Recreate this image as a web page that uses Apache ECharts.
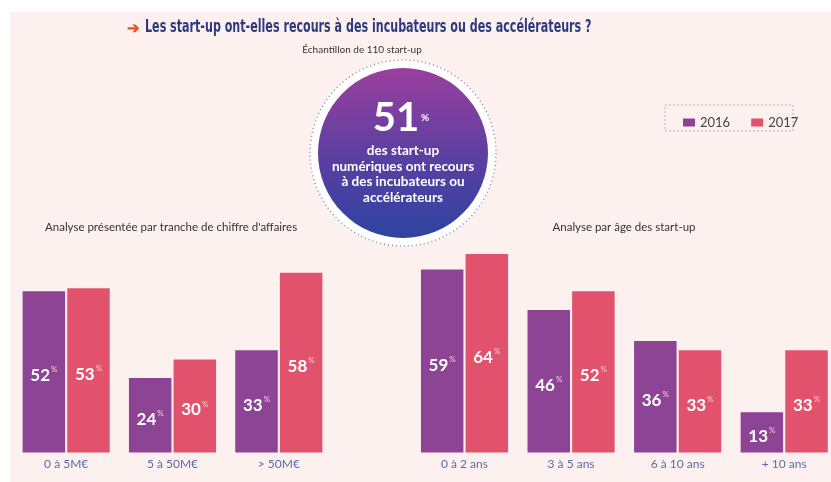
<!DOCTYPE html>
<html>
<head>
<meta charset="utf-8">
<script src="https://cdn.jsdelivr.net/npm/echarts@6/dist/echarts.min.js"></script>
<style>
  html, body { margin: 0; padding: 0; background: #ffffff; }
  #chart { width: 831px; height: 482px; }
</style>
</head>
<body>
<div id="chart"></div>
<script>
// Chiffre d'affaires
const revenueCategories = ['0 à 5M€', '5 à 50M€', '> 50M€'];
const revenue2016 = [52, 24, 33];
const revenue2017 = [53, 30, 58];

// Âge des start-up
const ageCategories = ['0 à 2 ans', '3 à 5 ans', '6 à 10 ans', '+ 10 ans'];
const age2016 = [59, 46, 36, 13];
const age2017 = [64, 52, 33, 33];

const seriesNames = ['2016', '2017'];
const headlineValue = 51;

const PURPLE = '#8e4495';
const PINK = '#e3526d';
const BG = '#fdf1f0';
const FONT = 'Lato, "Open Sans", sans-serif';

const chart = echarts.init(document.getElementById('chart'), null, { renderer: 'canvas' });

const barLabel = {
  show: true,
  position: 'inside',
  offset: [0, 4],
  formatter: p => '{n|' + p.value + '}{p|%}',
  rich: {
    n: { color: '#ffffff', fontSize: 17, fontWeight: 'bold', fontFamily: FONT, lineHeight: 20 },
    p: { color: '#f4c9d3', fontSize: 8, fontFamily: FONT, verticalAlign: 'top', lineHeight: 20, padding: [0, 0, 8, 1] }
  }
};

function barSeries(name, data, color, idx) {
  return {
    name: name,
    type: 'bar',
    xAxisIndex: idx,
    yAxisIndex: idx,
    data: data,
    barWidth: 42.5,
    barGap: '5%',
    itemStyle: { color: color },
    label: barLabel
  };
}

const xAxisCommon = {
  type: 'category',
  axisLine: { show: false },
  axisTick: { show: false },
  axisLabel: { color: '#5c6aa6', fontSize: 12, fontFamily: FONT, margin: 6 }
};
const yAxisCommon = { type: 'value', min: 0, max: 70, show: false, splitLine: { show: false } };

const R = 85;
const cx = 403, cy = 153;

chart.setOption({
  backgroundColor: '#ffffff',
  animation: false,
  legend: {
    data: seriesNames,
    left: 678,
    top: 111,
    icon: 'rect',
    itemWidth: 12,
    itemHeight: 8,
    itemGap: 21,
    textStyle: { color: '#444444', fontSize: 13, fontFamily: FONT }
  },
  grid: [
    { left: 13, top: 235.5, width: 319, height: 217 },
    // category centres sit on the grid edges (boundaryGap: false)
    { left: 464.5, top: 235.5, width: 319.7, height: 217 }
  ],
  xAxis: [
    Object.assign({}, xAxisCommon, { gridIndex: 0, data: revenueCategories }),
    Object.assign({}, xAxisCommon, { gridIndex: 1, data: ageCategories, boundaryGap: false })
  ],
  yAxis: [
    Object.assign({}, yAxisCommon, { gridIndex: 0 }),
    Object.assign({}, yAxisCommon, { gridIndex: 1 })
  ],
  series: [
    barSeries(seriesNames[0], revenue2016, PURPLE, 0),
    barSeries(seriesNames[1], revenue2017, PINK, 0),
    Object.assign(barSeries(seriesNames[0], age2016, PURPLE, 1), { clip: false }),
    Object.assign(barSeries(seriesNames[1], age2017, PINK, 1), { clip: false })
  ],
  graphic: [
    // pale pink panel
    { type: 'rect', z: -10, silent: true, shape: { x: 10, y: 12, width: 821, height: 470 }, style: { fill: BG } },
    // title
    {
      type: 'text', x: 127, y: 28,
      style: { text: '➔', fill: '#e8542a', fontSize: 15, fontWeight: 'bold', fontFamily: FONT, verticalAlign: 'middle' }
    },
    {
      type: 'text', x: 145, y: 28, scaleX: 0.727,
      style: {
        text: 'Les start-up ont-elles recours à des incubateurs ou des accélérateurs ?',
        fill: '#2d3b7c', fontSize: 17, fontWeight: 'bold', verticalAlign: 'middle',
        fontFamily: '"Liberation Sans Narrow", "DejaVu Sans Condensed", sans-serif'
      }
    },
    {
      type: 'text', x: 362, y: 50,
      style: { text: 'Échantillon de 110 start-up', fill: '#333333', fontSize: 10, fontFamily: FONT, align: 'center', verticalAlign: 'middle' }
    },
    // legend frame
    { type: 'rect', shape: { x: 665, y: 105, width: 128, height: 26 }, style: { fill: 'none', stroke: '#b8b0b0', lineWidth: 1, lineDash: [2, 2] } },
    // section captions
    {
      type: 'text', x: 45, y: 227,
      style: { text: "Analyse présentée par tranche de chiffre d'affaires", fill: '#333333', fontSize: 11.5, fontFamily: FONT, verticalAlign: 'middle' }
    },
    {
      type: 'text', x: 624, y: 227,
      style: { text: 'Analyse par âge des start-up', fill: '#333333', fontSize: 11.5, fontFamily: FONT, align: 'center', verticalAlign: 'middle' }
    },
    // headline badge
    { type: 'circle', shape: { cx: cx, cy: cy, r: 93 }, style: { fill: '#ffffff', stroke: '#8a8fa8', lineWidth: 1.5, lineDash: [1, 3] } },
    {
      type: 'circle', shape: { cx: cx, cy: cy, r: R },
      style: {
        fill: new echarts.graphic.LinearGradient(0, 0, 0, 1, [
          { offset: 0, color: '#9a3f9e' },
          { offset: 0.5, color: '#5e3fa0' },
          { offset: 1, color: '#2c44a0' }
        ])
      }
    },
    {
      type: 'text', x: cx - 2, y: 118,
      style: {
        text: '{n|' + headlineValue + '}{p|%}',
        align: 'center', verticalAlign: 'middle',
        rich: {
          n: { fill: '#ffffff', fontSize: 40, fontWeight: 'bold', fontFamily: FONT, lineHeight: 42 },
          p: { fill: '#ffffff', fontSize: 10, fontWeight: 'bold', fontFamily: FONT, lineHeight: 42, padding: [0, 0, 0, 2] }
        }
      }
    },
    {
      type: 'text', x: cx, y: 143,
      style: {
        text: 'des start-up\nnumériques ont recours\nà des incubateurs ou\naccélérateurs',
        fill: '#ffffff', fontSize: 13.5, fontWeight: 'bold', fontFamily: FONT,
        align: 'center', verticalAlign: 'top', lineHeight: 15.5
      }
    }
  ]
});
</script>
</body>
</html>
